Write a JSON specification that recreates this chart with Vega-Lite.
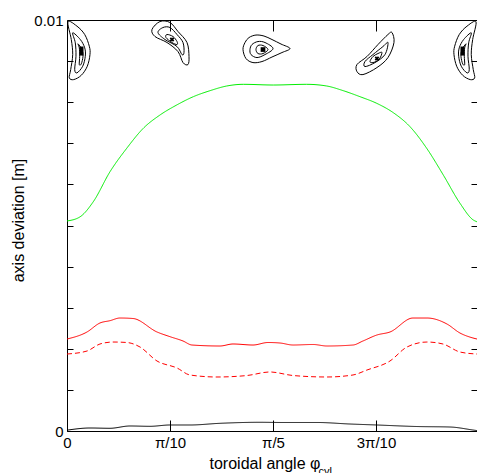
{
"$schema": "https://vega.github.io/schema/vega-lite/v6.json",
"width": 410, "height": 411,
"autosize": {"type": "none"},
"padding": {"left": 67, "top": 20, "right": 0, "bottom": 42},
"config": {"view": {"stroke": null}, "font": "Liberation Sans",
  "axis": {"domainColor": "black", "tickColor": "black", "labelColor": "black", "titleColor": "black", "grid": false, "labelFontSize": 15, "titleFontSize": 16, "titleFontWeight": "normal", "labelFont": "Liberation Sans", "titleFont": "Liberation Sans", "labelFlush": false, "labelOverlap": false, "domainWidth": 1, "tickWidth": 1}},
"datasets": {
 "curves": [
  {"s":"g","phi":0,"dev":0.00511},{"s":"g","phi":0.0396,"dev":0.00521},{"s":"g","phi":0.0802,"dev":0.005579},{"s":"g","phi":0.1312,"dev":0.006309},{"s":"g","phi":0.1821,"dev":0.006878},{"s":"g","phi":0.2327,"dev":0.007365},{"s":"g","phi":0.2837,"dev":0.007689},{"s":"g","phi":0.3346,"dev":0.007932},{"s":"g","phi":0.3852,"dev":0.008134},{"s":"g","phi":0.4362,"dev":0.00828},{"s":"g","phi":0.4871,"dev":0.008394},{"s":"g","phi":0.5377,"dev":0.008435},{"s":"g","phi":0.6292,"dev":0.008418},{"s":"g","phi":0.7311,"dev":0.008435},{"s":"g","phi":0.7921,"dev":0.008394},{"s":"g","phi":0.8427,"dev":0.00828},{"s":"g","phi":0.8937,"dev":0.008134},{"s":"g","phi":0.9446,"dev":0.007973},{"s":"g","phi":0.9952,"dev":0.007745},{"s":"g","phi":1.0462,"dev":0.007404},{"s":"g","phi":1.0971,"dev":0.006878},{"s":"g","phi":1.1477,"dev":0.006229},{"s":"g","phi":1.1987,"dev":0.00554},{"s":"g","phi":1.2392,"dev":0.005134},{"s":"g","phi":1.2505,"dev":0.00509},
  {"s":"r","phi":0,"dev":0.002238},{"s":"r","phi":0.061,"dev":0.002409},{"s":"r","phi":0.1006,"dev":0.002628},{"s":"r","phi":0.1311,"dev":0.002684},{"s":"r","phi":0.1616,"dev":0.002749},{"s":"r","phi":0.2013,"dev":0.002737},{"s":"r","phi":0.2745,"dev":0.002409},{"s":"r","phi":0.3141,"dev":0.002295},{"s":"r","phi":0.3538,"dev":0.00219},{"s":"r","phi":0.3812,"dev":0.002092},{"s":"r","phi":0.4666,"dev":0.002068},{"s":"r","phi":0.5063,"dev":0.002117},{"s":"r","phi":0.5673,"dev":0.002092},{"s":"r","phi":0.613,"dev":0.002153},{"s":"r","phi":0.6496,"dev":0.002141},{"s":"r","phi":0.6893,"dev":0.002092},{"s":"r","phi":0.7503,"dev":0.002105},{"s":"r","phi":0.793,"dev":0.002068},{"s":"r","phi":0.8723,"dev":0.002092},{"s":"r","phi":0.9027,"dev":0.00219},{"s":"r","phi":0.9454,"dev":0.002336},{"s":"r","phi":0.9851,"dev":0.002409},{"s":"r","phi":1.0552,"dev":0.002749},{"s":"r","phi":1.0979,"dev":0.002749},{"s":"r","phi":1.1589,"dev":0.002603},{"s":"r","phi":1.1986,"dev":0.002384},{"s":"r","phi":1.2382,"dev":0.002263},{"s":"r","phi":1.2505,"dev":0.002238},
  {"s":"rd","phi":0,"dev":0.001873},{"s":"rd","phi":0.061,"dev":0.001946},{"s":"rd","phi":0.1006,"dev":0.002117},{"s":"rd","phi":0.1403,"dev":0.002165},{"s":"rd","phi":0.183,"dev":0.002153},{"s":"rd","phi":0.2226,"dev":0.002044},{"s":"rd","phi":0.2745,"dev":0.001703},{"s":"rd","phi":0.3355,"dev":0.001533},{"s":"rd","phi":0.3751,"dev":0.001363},{"s":"rd","phi":0.4575,"dev":0.001314},{"s":"rd","phi":0.549,"dev":0.00135},{"s":"rd","phi":0.6191,"dev":0.001436},{"s":"rd","phi":0.6893,"dev":0.00135},{"s":"rd","phi":0.793,"dev":0.001314},{"s":"rd","phi":0.8723,"dev":0.001363},{"s":"rd","phi":0.915,"dev":0.001484},{"s":"rd","phi":0.9851,"dev":0.001703},{"s":"rd","phi":1.037,"dev":0.002044},{"s":"rd","phi":1.0979,"dev":0.002165},{"s":"rd","phi":1.1467,"dev":0.002117},{"s":"rd","phi":1.1986,"dev":0.001922},{"s":"rd","phi":1.2505,"dev":0.001873},
  {"s":"k","phi":0,"dev":0.00002},{"s":"k","phi":0.0701,"dev":0.000073},{"s":"k","phi":0.1311,"dev":0.000066},{"s":"k","phi":0.1921,"dev":0.000122},{"s":"k","phi":0.2531,"dev":0.000114},{"s":"k","phi":0.3141,"dev":0.000146},{"s":"k","phi":0.3751,"dev":0.000146},{"s":"k","phi":0.4666,"dev":0.000187},{"s":"k","phi":0.5886,"dev":0.000212},{"s":"k","phi":0.6588,"dev":0.000207},{"s":"k","phi":0.7625,"dev":0.000207},{"s":"k","phi":0.8631,"dev":0.00017},{"s":"k","phi":0.9454,"dev":0.000146},{"s":"k","phi":1.0674,"dev":0.000109},{"s":"k","phi":1.1681,"dev":0.000097},{"s":"k","phi":1.2382,"dev":0.000024},{"s":"k","phi":1.2505,"dev":0.00001}
 ],
 "contours": [
  {"c":"1o","o":1,"phi":0.003,"dev":0.009956},{"c":"1o","o":2,"phi":0.0305,"dev":0.009849},{"c":"1o","o":3,"phi":0.054,"dev":0.009647},{"c":"1o","o":4,"phi":0.068,"dev":0.009362},{"c":"1o","o":5,"phi":0.0701,"dev":0.009159},{"c":"1o","o":6,"phi":0.0619,"dev":0.008875},{"c":"1o","o":7,"phi":0.0436,"dev":0.008655},{"c":"1o","o":8,"phi":0.0204,"dev":0.00855},{"c":"1o","o":9,"phi":0.007,"dev":0.008592},{"c":"1o","o":10,"phi":0.0113,"dev":0.008794},{"c":"1o","o":11,"phi":0.0174,"dev":0.009159},{"c":"1o","o":12,"phi":0.0131,"dev":0.009525},
  {"c":"1m","o":1,"phi":0.0174,"dev":0.009688},{"c":"1m","o":2,"phi":0.0406,"dev":0.009525},{"c":"1m","o":3,"phi":0.054,"dev":0.009323},{"c":"1m","o":4,"phi":0.0558,"dev":0.009118},{"c":"1m","o":5,"phi":0.0479,"dev":0.008875},{"c":"1m","o":6,"phi":0.0305,"dev":0.008714},{"c":"1m","o":7,"phi":0.0235,"dev":0.008794},{"c":"1m","o":8,"phi":0.0274,"dev":0.009118},{"c":"1m","o":9,"phi":0.0253,"dev":0.009444},
  {"c":"1i","o":1,"phi":0.0335,"dev":0.00942},{"c":"1i","o":2,"phi":0.0457,"dev":0.009281},{"c":"1i","o":3,"phi":0.0488,"dev":0.009118},{"c":"1i","o":4,"phi":0.0436,"dev":0.008933},{"c":"1i","o":5,"phi":0.0375,"dev":0.008916},{"c":"1i","o":6,"phi":0.0387,"dev":0.009118},{"c":"1i","o":7,"phi":0.0375,"dev":0.009323},
  {"c":"2o","o":1,"phi":0.2836,"dev":0.009963},{"c":"2o","o":2,"phi":0.2592,"dev":0.009768},{"c":"2o","o":3,"phi":0.2684,"dev":0.009598},{"c":"2o","o":4,"phi":0.305,"dev":0.009452},{"c":"2o","o":5,"phi":0.3385,"dev":0.009232},{"c":"2o","o":6,"phi":0.3538,"dev":0.008964},{"c":"2o","o":7,"phi":0.369,"dev":0.008916},{"c":"2o","o":8,"phi":0.3721,"dev":0.009111},{"c":"2o","o":9,"phi":0.366,"dev":0.009452},{"c":"2o","o":10,"phi":0.3385,"dev":0.00972},{"c":"2o","o":11,"phi":0.3141,"dev":0.009939},
  {"c":"2m","o":1,"phi":0.2928,"dev":0.009817},{"c":"2m","o":2,"phi":0.2775,"dev":0.009695},{"c":"2m","o":3,"phi":0.2989,"dev":0.009525},{"c":"2m","o":4,"phi":0.3355,"dev":0.009354},{"c":"2m","o":5,"phi":0.3507,"dev":0.009159},{"c":"2m","o":6,"phi":0.3568,"dev":0.009208},{"c":"2m","o":7,"phi":0.3538,"dev":0.009452},{"c":"2m","o":8,"phi":0.3355,"dev":0.009647},{"c":"2m","o":9,"phi":0.3141,"dev":0.009817},
  {"c":"2i","o":1,"phi":0.305,"dev":0.009647},{"c":"2i","o":2,"phi":0.3019,"dev":0.009573},{"c":"2i","o":3,"phi":0.3202,"dev":0.009452},{"c":"2i","o":4,"phi":0.3355,"dev":0.009403},{"c":"2i","o":5,"phi":0.3355,"dev":0.009476},{"c":"2i","o":6,"phi":0.3233,"dev":0.009598},
  {"c":"3o","o":1,"phi":0.5368,"dev":0.009281},{"c":"3o","o":2,"phi":0.5429,"dev":0.009452},{"c":"3o","o":3,"phi":0.5551,"dev":0.009573},{"c":"3o","o":4,"phi":0.5764,"dev":0.009634},{"c":"3o","o":5,"phi":0.6008,"dev":0.00961},{"c":"3o","o":6,"phi":0.6252,"dev":0.009525},{"c":"3o","o":7,"phi":0.6527,"dev":0.009415},{"c":"3o","o":8,"phi":0.6801,"dev":0.009306},{"c":"3o","o":9,"phi":0.6557,"dev":0.009208},{"c":"3o","o":10,"phi":0.6252,"dev":0.009099},{"c":"3o","o":11,"phi":0.5947,"dev":0.008989},{"c":"3o","o":12,"phi":0.5672,"dev":0.008964},{"c":"3o","o":13,"phi":0.5459,"dev":0.009062},
  {"c":"3m","o":1,"phi":0.5581,"dev":0.009281},{"c":"3m","o":2,"phi":0.5642,"dev":0.009403},{"c":"3m","o":3,"phi":0.5825,"dev":0.009476},{"c":"3m","o":4,"phi":0.6039,"dev":0.009452},{"c":"3m","o":5,"phi":0.6283,"dev":0.009306},{"c":"3m","o":6,"phi":0.6039,"dev":0.009159},{"c":"3m","o":7,"phi":0.5795,"dev":0.009086},{"c":"3m","o":8,"phi":0.5612,"dev":0.009159},
  {"c":"3i","o":1,"phi":0.5764,"dev":0.009281},{"c":"3i","o":2,"phi":0.5825,"dev":0.009379},{"c":"3i","o":3,"phi":0.5978,"dev":0.009379},{"c":"3i","o":4,"phi":0.613,"dev":0.009281},{"c":"3i","o":5,"phi":0.5978,"dev":0.009184},{"c":"3i","o":6,"phi":0.5825,"dev":0.009184},
  {"c":"4o","o":1,"phi":0.9912,"dev":0.009695},{"c":"4o","o":2,"phi":0.9973,"dev":0.009452},{"c":"4o","o":3,"phi":0.979,"dev":0.009086},{"c":"4o","o":4,"phi":0.9454,"dev":0.008843},{"c":"4o","o":5,"phi":0.9027,"dev":0.008672},{"c":"4o","o":6,"phi":0.8844,"dev":0.008745},{"c":"4o","o":7,"phi":0.8844,"dev":0.008916},{"c":"4o","o":8,"phi":0.9149,"dev":0.009111},{"c":"4o","o":9,"phi":0.9485,"dev":0.009403},{"c":"4o","o":10,"phi":0.979,"dev":0.009647},
  {"c":"4m","o":1,"phi":0.979,"dev":0.009452},{"c":"4m","o":2,"phi":0.9698,"dev":0.009159},{"c":"4m","o":3,"phi":0.9393,"dev":0.008964},{"c":"4m","o":4,"phi":0.9088,"dev":0.008867},{"c":"4m","o":5,"phi":0.9088,"dev":0.008989},{"c":"4m","o":6,"phi":0.9332,"dev":0.009159},{"c":"4m","o":7,"phi":0.9637,"dev":0.009354},
  {"c":"4i","o":1,"phi":0.9607,"dev":0.009208},{"c":"4i","o":2,"phi":0.9515,"dev":0.009038},{"c":"4i","o":3,"phi":0.9332,"dev":0.008964},{"c":"4i","o":4,"phi":0.9241,"dev":0.008989},{"c":"4i","o":5,"phi":0.9332,"dev":0.009111},{"c":"4i","o":6,"phi":0.9485,"dev":0.009184},
  {"c":"5o","o":1,"phi":1.2474,"dev":0.009956},{"c":"5o","o":2,"phi":1.2199,"dev":0.009849},{"c":"5o","o":3,"phi":1.1964,"dev":0.009647},{"c":"5o","o":4,"phi":1.1824,"dev":0.009362},{"c":"5o","o":5,"phi":1.1803,"dev":0.009159},{"c":"5o","o":6,"phi":1.1885,"dev":0.008875},{"c":"5o","o":7,"phi":1.2068,"dev":0.008655},{"c":"5o","o":8,"phi":1.23,"dev":0.00855},{"c":"5o","o":9,"phi":1.2434,"dev":0.008592},{"c":"5o","o":10,"phi":1.2391,"dev":0.008794},{"c":"5o","o":11,"phi":1.233,"dev":0.009159},{"c":"5o","o":12,"phi":1.2373,"dev":0.009525},
  {"c":"5m","o":1,"phi":1.233,"dev":0.009688},{"c":"5m","o":2,"phi":1.2098,"dev":0.009525},{"c":"5m","o":3,"phi":1.1964,"dev":0.009323},{"c":"5m","o":4,"phi":1.1946,"dev":0.009118},{"c":"5m","o":5,"phi":1.2025,"dev":0.008875},{"c":"5m","o":6,"phi":1.2199,"dev":0.008714},{"c":"5m","o":7,"phi":1.2269,"dev":0.008794},{"c":"5m","o":8,"phi":1.223,"dev":0.009118},{"c":"5m","o":9,"phi":1.2251,"dev":0.009444},
  {"c":"5i","o":1,"phi":1.2169,"dev":0.00942},{"c":"5i","o":2,"phi":1.2047,"dev":0.009281},{"c":"5i","o":3,"phi":1.2016,"dev":0.009118},{"c":"5i","o":4,"phi":1.2068,"dev":0.008933},{"c":"5i","o":5,"phi":1.2129,"dev":0.008916},{"c":"5i","o":6,"phi":1.2117,"dev":0.009118},{"c":"5i","o":7,"phi":1.2129,"dev":0.009323}
 ],
 "bars": [
  {"b":"1","phi":0.0442,"dev":0.009354},{"b":"1","phi":0.0442,"dev":0.009135},
  {"b":"5","phi":1.2062,"dev":0.009354},{"b":"5","phi":1.2062,"dev":0.009135}
 ],
 "axes": [
  {"phi":0.3202,"dev":0.009525,"k":"x"},{"phi":0.5978,"dev":0.009281,"k":"d"},{"phi":0.9454,"dev":0.009062,"k":"x"}
 ]
},
"layer": [
 {"data": {"name": "curves"},
  "mark": {"type": "line", "strokeWidth": 1, "interpolate": "monotone"},
  "encoding": {
   "x": {"field": "phi", "type": "quantitative", "scale": {"domain": [0, 1.2505], "nice": false, "zero": false},
     "axis": {"orient": "bottom", "values": [0, 0.314159, 0.628319, 0.942478], "labelExpr": "datum.value < 0.1 ? '0' : datum.value < 0.4 ? 'π/10' : datum.value < 0.7 ? 'π/5' : '3π/10'", "tickSize": -11, "labelPadding": 15, "labelBaseline": "top", "title": "toroidal angle φ", "titleAlign": "left", "titleX": 142, "titleY": 37, "titleBaseline": "alphabetic", "titleAnchor": null}},
   "y": {"field": "dev", "type": "quantitative", "scale": {"domain": [0, 0.01], "nice": false, "zero": false},
     "axis": {"orient": "left", "values": [0, 0.001, 0.002, 0.003, 0.004, 0.005, 0.006, 0.007, 0.008, 0.009, 0.01], "labelExpr": "datum.value > 0.0095 ? '0.01' : datum.value == 0 ? '0' : ''", "tickSize": -6, "labelPadding": 10, "title": "axis deviation [m]", "titleAngle": 270, "titleX": -49, "titleY": 200, "titleAlign": "center", "titleBaseline": "middle"}},
   "color": {"field": "s", "type": "nominal", "scale": {"domain": ["g", "r", "rd", "k"], "range": ["#00ee00", "#ff0000", "#ff0000", "#000000"]}, "legend": null},
   "strokeDash": {"field": "s", "type": "nominal", "scale": {"domain": ["g", "r", "rd", "k"], "range": [[1, 0], [1, 0], [5, 3], [1, 0]]}, "legend": null}
  }},
 {"data": {"name": "contours"},
  "mark": {"type": "line", "strokeWidth": 1, "color": "black", "interpolate": "cardinal-closed"},
  "encoding": {
   "x": {"field": "phi", "type": "quantitative", "axis": {"orient": "top", "values": [0.314159, 0.628319, 0.942478], "labels": false, "tickSize": -11, "title": null, "domain": true}},
   "y": {"field": "dev", "type": "quantitative", "axis": {"orient": "right", "values": [0, 0.001, 0.002, 0.003, 0.004, 0.005, 0.006, 0.007, 0.008, 0.009, 0.01], "labels": false, "tickSize": -6, "title": null, "domain": false}},
   "detail": {"field": "c", "type": "nominal"},
   "order": {"field": "o", "type": "quantitative"}
  }},
 {"data": {"name": "bars"},
  "mark": {"type": "line", "strokeWidth": 4, "color": "black"},
  "encoding": {
   "x": {"field": "phi", "type": "quantitative", "axis": {"orient": "bottom", "domain": false, "ticks": false, "labels": false, "title": "cyl", "titleFontSize": 11, "titleX": 251, "titleY": 43, "titleAlign": "left", "titleBaseline": "alphabetic"}},
   "y": {"field": "dev", "type": "quantitative", "axis": null},
   "detail": {"field": "b", "type": "nominal"}
  }},
 {"data": {"name": "axes"},
  "mark": {"type": "point", "filled": true, "color": "black", "opacity": 1},
  "encoding": {
   "x": {"field": "phi", "type": "quantitative", "axis": null},
   "y": {"field": "dev", "type": "quantitative", "axis": null},
   "shape": {"field": "k", "type": "nominal", "scale": {"domain": ["x", "d"], "range": ["cross", "square"]}, "legend": null},
   "angle": {"field": "k", "type": "nominal", "scale": {"domain": ["x", "d"], "range": [45, 0]}, "legend": null},
   "size": {"value": 22}
  }}
],
"resolve": {"axis": {"x": "independent", "y": "independent"}}
}
